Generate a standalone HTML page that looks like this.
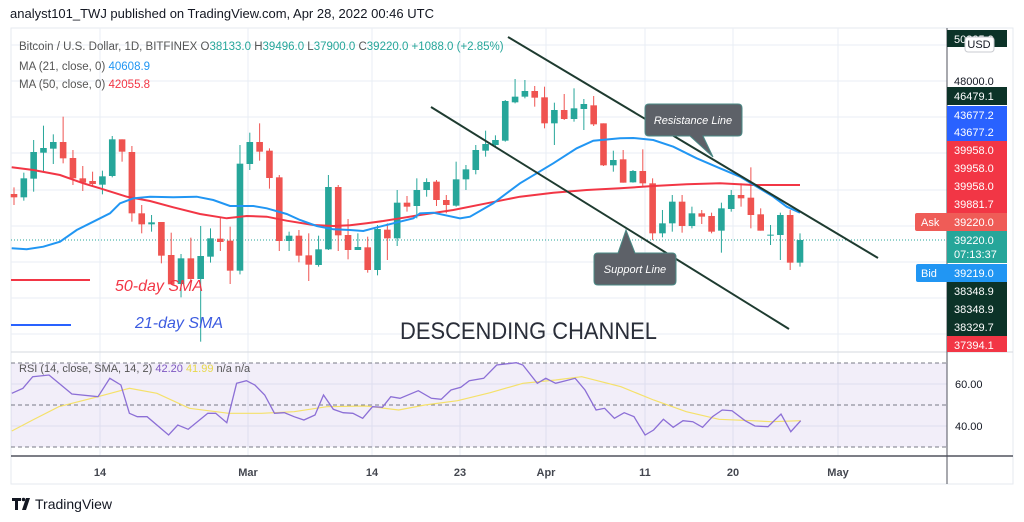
<!DOCTYPE html>
<html><head><meta charset="utf-8"><style>
body{margin:0;background:#fff;width:1024px;height:522px;overflow:hidden;font-family:"Liberation Sans",sans-serif}
svg{position:absolute;left:0;top:0}
</style></head><body>
<svg id="s" width="1024" height="522" xmlns="http://www.w3.org/2000/svg" font-family="Liberation Sans, sans-serif">
<rect x="11" y="28" width="1002" height="456" fill="#fff" stroke="#e6e9ef"/>
<g id="grid" stroke="#e9eef4" stroke-width="1"></g>
<rect x="11" y="363" width="936" height="84" fill="#7e57c2" fill-opacity="0.1"/>
<line x1="11" y1="352" x2="1013" y2="352" stroke="#d6d9df"/>
<g stroke="#787b86" stroke-dasharray="4,3"><line x1="11" y1="363" x2="947" y2="363"/><line x1="11" y1="405" x2="947" y2="405"/><line x1="11" y1="447" x2="947" y2="447"/></g>
<line x1="11" y1="456" x2="1013" y2="456" stroke="#50535e" stroke-width="1.5"/>
<line x1="947" y1="28" x2="947" y2="484" stroke="#50535e" stroke-width="1"/>
<line x1="11" y1="240" x2="947" y2="240" stroke="#26a69a" stroke-dasharray="1,2"/>
<g id="candles"></g>
<polyline id="ma50" fill="none" stroke="#f23645" stroke-width="2"/>
<polyline id="ma21" fill="none" stroke="#2196f3" stroke-width="2"/>
<line x1="508" y1="37" x2="878" y2="258" stroke="#1e3b30" stroke-width="2"/>
<line x1="431" y1="107" x2="789" y2="329" stroke="#1e3b30" stroke-width="2"/>
<path d="M651,104 H738 Q742,104 742,108 V132 Q742,136 738,136 H703 L713,157 L690,136 H649 Q645,136 645,132 V108 Q645,104 649,104Z" fill="#5d6168" stroke="#4a8a86"/>
<text x="693" y="124" fill="#fff" font-size="11" font-style="italic" text-anchor="middle">Resistance Line</text>
<path d="M598,253 H618 L626,230 L635,253 H672 Q676,253 676,257 V281 Q676,285 672,285 H598 Q594,285 594,281 V257 Q594,253 598,253Z" fill="#5d6168" stroke="#4a8a86"/>
<text x="635" y="273" fill="#fff" font-size="11" font-style="italic" text-anchor="middle">Support Line</text>
<line x1="11" y1="280" x2="90" y2="280" stroke="#f23645" stroke-width="2"/>
<text x="115" y="291" fill="#f23645" font-size="16" font-style="italic">50-day SMA</text>
<line x1="11" y1="325" x2="71" y2="325" stroke="#2962ff" stroke-width="2"/>
<text x="135" y="328" fill="#3c5be0" font-size="16" font-style="italic">21-day SMA</text>
<text x="400" y="339" fill="#2a2e39" font-size="24" textLength="257" lengthAdjust="spacingAndGlyphs">DESCENDING CHANNEL</text>
<polyline id="rsiy" fill="none" stroke="#f5e16a" stroke-width="1.2"/>
<polyline id="rsip" fill="none" stroke="#8c6fd6" stroke-width="1.3"/>
<text x="10" y="18" fill="#131722" font-size="13">analyst101_TWJ published on TradingView.com, Apr 28, 2022 00:46 UTC</text>
<text x="19" y="50" font-size="11.5" fill="#555"><tspan>Bitcoin / U.S. Dollar, 1D, BITFINEX  O</tspan><tspan fill="#26a69a">38133.0</tspan><tspan>  H</tspan><tspan fill="#26a69a">39496.0</tspan><tspan>  L</tspan><tspan fill="#26a69a">37900.0</tspan><tspan>  C</tspan><tspan fill="#26a69a">39220.0  +1088.0 (+2.85%)</tspan></text>
<text x="19" y="70" font-size="11.5" fill="#555">MA (21, close, 0)  <tspan fill="#2196f3">40608.9</tspan></text>
<text x="19" y="88" font-size="11.5" fill="#555">MA (50, close, 0)  <tspan fill="#f23645">42055.8</tspan></text>
<text x="19" y="372" font-size="11" fill="#555">RSI (14, close, SMA, 14, 2)  <tspan fill="#7e57c2">42.20</tspan>  <tspan fill="#e8d84a">41.99</tspan>  n/a  n/a</text>
<g font-size="11" fill="#131722"><text x="955" y="388">60.00</text><text x="955" y="430">40.00</text></g>
<g font-size="11" fill="#131722" font-weight="bold" text-anchor="middle" opacity="0.8">
<text x="100" y="476">14</text><text x="248" y="476">Mar</text><text x="372" y="476">14</text><text x="460" y="476">23</text><text x="546" y="476">Apr</text><text x="645" y="476">11</text><text x="733" y="476">20</text><text x="838" y="476">May</text></g>
<text x="954" y="85" font-size="11" fill="#131722">48000.0</text>
<g id="labels" font-size="11" fill="#fff"></g>
<rect x="965" y="37" width="29" height="15" rx="3" fill="#fff" stroke="#c9cbd0"/>
<text x="979" y="48" font-size="11" fill="#131722" text-anchor="middle">USD</text>
<rect x="915" y="213" width="34" height="18" rx="2" fill="#ef5c57"/><text x="921" y="226" font-size="11" fill="#fff">Ask</text>
<rect x="916" y="264" width="33" height="18" rx="2" fill="#2196f3"/><text x="921" y="277" font-size="11" fill="#fff">Bid</text>
<g fill="#131722"><path d="M12,498h9v3h-3v9h-3v-9h-3z"/><circle cx="23.5" cy="499.5" r="1.8"/><path d="M26,498h4l-4,12h-4z"/></g>
<text x="35" y="509" font-size="14" fill="#131722">TradingView</text>
</svg>
<script>
var s=document.getElementById('s'),NS='http://www.w3.org/2000/svg';
function el(p,t,a){var e=document.createElementNS(NS,t);for(var k in a)e.setAttribute(k,a[k]);p.appendChild(e);return e;}
var g=document.getElementById('grid');
[100,248,372,460,546,645,733,838].forEach(function(x){el(g,'line',{x1:x,y1:28,x2:x,y2:456});});
[45,81,117,153,190,226,262,298,334,384,426].forEach(function(y){el(g,'line',{x1:11,y1:y,x2:947,y2:y});});
var A=[[312,322,292,345,0],[265,322,248,332,1],[186,266,150,305,1],[174,188,107,245,1],[156,176,133,222,1],[156,205,80,220,0],[204,265,180,285,0],[265,278,228,303,0],[273,282,245,290,0],[259,284,242,313,1],[148,258,138,262,1],[148,185,148,215,0],[186,370,168,395,0],[370,403,345,430,0],[397,403,375,425,1],[396,497,396,520,0],[495,583,428,583,0],[505,582,492,622,1],[505,567,443,580,0],[498,567,408,755,1],[445,500,415,518,1],[446,456,383,483,0],[452,542,410,582,0],[221,542,165,553,1],[156,222,128,240,1],[156,185,100,212,0],[182,264,175,296,0],[262,453,255,483,0],[437,453,425,483,1],[437,497,420,517,0],[496,524,430,573,0],[478,525,437,530,1],[291,478,255,480,1],[291,436,285,483,0],[435,480,387,508,0],[471,480,430,480,1],[472,540,440,548,0],[417,540,405,556,1],[419,445,400,510,0],[338,445,300,468,1],[338,350,318,365,0],[300,348,265,385,1],[276,300,265,320,1]];
var B=[[365,420,360,438,0],[420,435,405,460,0],[358,437,305,440,1],[328,358,315,390,1],[270,330,255,343,1],[252,272,212,290,1],[240,255,226,262,1],[123,242,120,245,1],[110,127,57,130,1],[93,110,60,115,1],[93,113,78,140,0],[112,190,80,205,0],[150,190,128,255,1],[150,177,102,180,0],[145,177,85,185,1],[132,147,117,210,1],[136,193,108,198,0],[190,316,190,318,0],[300,316,272,335,1],[298,368,270,368,0],[333,367,330,368,1],[333,370,268,378,0],[370,520,355,540,0],[490,520,450,532,1],[425,490,405,515,1],[425,498,405,518,0],[460,498,440,505,1],[460,470,450,492,0],[468,515,458,520,0],[445,512,428,578,1],[405,447,390,455,1],[405,415,370,440,0],[413,465,322,505,0],[463,512,445,512,0],[524,526,495,555,1],[465,525,458,600,1],[465,608,450,630,0],[540,608,520,620,1]];
var C=[];A.forEach(function(c){C.push([90+c[0]/3,90+c[1]/3,90+c[2]/3,90+c[3]/3,c[4]]);});
B.forEach(function(c){C.push([60+c[0]/3,60+c[1]/3,60+c[2]/3,60+c[3]/3,c[4]]);});
var cg=document.getElementById('candles');
C.forEach(function(c,i){var x=14+i*(786/(C.length-1));var col=c[4]?'#26a69a':'#ef5350';
el(cg,'line',{x1:x,y1:c[2],x2:x,y2:c[3],stroke:col,'stroke-width':1});
el(cg,'rect',{x:x-3.3,y:c[0],width:6.6,height:Math.max(1,c[1]-c[0]),fill:col});});
function pts(a,ox,oy,sx,sy){return a.map(function(p){return (ox+p[0]/sx).toFixed(1)+','+(oy+p[1]/sy).toFixed(1);}).join(' ');}
var r3=[[35,232],[100,240],[180,255],[250,280],[300,295],[380,320],[450,333],[520,352],[600,372],[680,385],[740,378],[800,380],[860,392],[940,405],[1000,408],[1050,406],[1100,400],[1150,393],[1200,385],[1260,375]];
var r4=[[0,465],[100,450],[200,430],[300,410],[400,398],[500,390],[600,385],[700,378],[800,373],[900,370],[1000,375],[1140,375]];
document.getElementById('ma50').setAttribute('points',pts(r3,0,90,3,3)+' '+pts(r4,420,60,3,3));
var b3=[[35,475],[80,478],[130,470],[180,455],[230,420],[280,395],[330,370],[360,340],[400,325],[450,320],[520,322],[590,320],[640,330],[690,348],[760,348],[800,355],[860,372],[900,390],[950,408],[1000,418],[1050,420],[1090,423],[1120,415],[1180,400],[1240,385]];
var b4=[[0,460],[40,458],[120,475],[150,470],[220,430],[300,370],[400,310],[470,265],[520,242],[600,235],[640,234],[700,240],[760,260],[830,295],[900,325],[960,350],[1010,380],[1060,410],[1100,440],[1140,458]];
document.getElementById('ma21').setAttribute('points',pts(b3,0,90,3,3)+' '+pts(b4,420,60,3,3));
var rp=[[18,130],[35,115],[50,80],[75,75],[110,132],[150,140],[168,85],[185,105],[198,190],[210,200],[225,200],[258,255],[272,225],[288,238],[318,190],[330,190],[347,218],[362,100],[377,92],[390,105],[405,135],[420,190],[435,188],[450,200],[465,210],[482,195],[495,135],[510,178],[525,188],[540,190],[555,205],[570,170],[585,172],[598,140],[612,145],[640,122],[660,145],[675,148],[690,120],[705,112],[718,92],[740,85],[760,45],[790,38],[800,45],[822,100],[835,85],[850,100],[880,85],[895,120],[912,180],[925,175],[940,205],[955,188],[970,200],[987,255],[1000,240],[1015,208],[1030,232],[1045,212],[1060,215],[1075,232],[1090,200],[1105,180],[1120,182],[1140,212],[1155,228],[1175,230],[1195,192],[1210,245],[1225,212]];
var ry=[[18,243],[50,210],[90,170],[150,140],[198,115],[240,130],[290,175],[350,190],[400,190],[450,185],[500,170],[560,168],[610,180],[650,165],[700,152],[750,128],[800,100],[850,90],[890,80],[950,110],[1000,150],[1050,185],[1100,208],[1150,212],[1180,215],[1225,212]];
document.getElementById('rsip').setAttribute('points',pts(rp,0,350,1.53,3));
document.getElementById('rsiy').setAttribute('points',pts(ry,0,350,1.53,3));
var L=[[30,47,'#0c3328','50835.9'],[87,105,'#0c3328','46479.1'],[106,123,'#2962ff','43677.2'],[123,141,'#2962ff','43677.2'],[141,159,'#f23645','39958.0'],[159,177,'#f23645','39958.0'],[177,195,'#f23645','39958.0'],[195,213,'#f23645','39881.7'],[213,231,'#ef5c57','39220.0'],[231,263,'#26a69a','39220.0'],[264,282,'#2196f3','39219.0'],[282,300,'#0c3328','38348.9'],[300,318,'#0c3328','38348.9'],[318,336,'#0c3328','38329.7'],[336,352,'#f23645','37394.1']];
var lg=document.getElementById('labels');
L.forEach(function(l){el(lg,'rect',{x:947,y:l[0],width:60,height:l[1]-l[0],fill:l[2]});var t=el(lg,'text',{x:954,y:l[0]+13});t.textContent=l[3];});
var t=el(lg,'text',{x:954,y:258});t.textContent='07:13:37';
</script>
</body></html>
